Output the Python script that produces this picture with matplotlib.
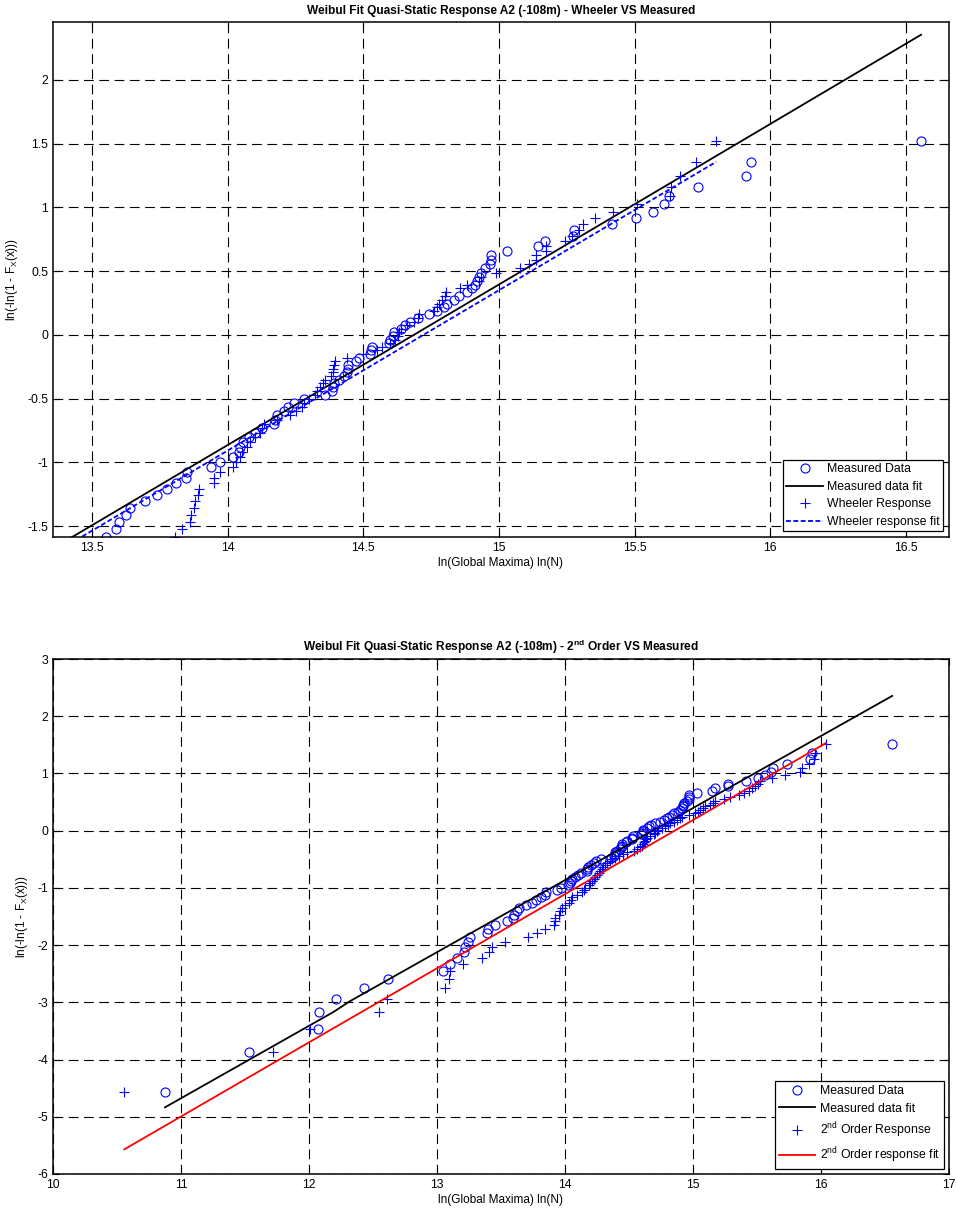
import matplotlib
matplotlib.use('Agg')
import matplotlib.pyplot as plt
from matplotlib.ticker import FuncFormatter

plt.rcParams['font.family'] = ['Liberation Sans', 'DejaVu Sans']
plt.rcParams['axes.unicode_minus'] = False
plt.rcParams['mathtext.fontset'] = 'custom'
plt.rcParams['mathtext.rm'] = 'Liberation Sans'
plt.rcParams['mathtext.it'] = 'Liberation Sans:italic'
plt.rcParams['mathtext.bf'] = 'Liberation Sans:bold'
plt.rcParams['lines.scale_dashes'] = False

# Weibull plotting positions ln(-ln(1 - F)) for the 96 ranked maxima
rank_y = [
    -4.5695, -3.8712, -3.4604, -3.1674, -2.9389, -2.7512, -2.5916, -2.4525,
    -2.3292, -2.2182, -2.1172, -2.0245, -1.9387, -1.8587, -1.7838, -1.7133,
    -1.6467, -1.5835, -1.5233, -1.4657, -1.4107, -1.3578, -1.3069, -1.2579,
    -1.2105, -1.1647, -1.1202, -1.0770, -1.0351, -0.9942, -0.9544, -0.9155,
    -0.8775, -0.8403, -0.8039, -0.7682, -0.7332, -0.6988, -0.6650, -0.6318,
    -0.5990, -0.5667, -0.5349, -0.5035, -0.4725, -0.4418, -0.4114, -0.3814,
    -0.3517, -0.3222, -0.2929, -0.2639, -0.2351, -0.2064, -0.1779, -0.1495,
    -0.1212, -0.0930, -0.0649, -0.0369, -0.0089, 0.0192, 0.0472, 0.0753,
    0.1034, 0.1317, 0.1600, 0.1885, 0.2171, 0.2460, 0.2751, 0.3044,
    0.3341, 0.3641, 0.3945, 0.4254, 0.4568, 0.4888, 0.5214, 0.5548,
    0.5890, 0.6242, 0.6605, 0.6980, 0.7371, 0.7779, 0.8207, 0.8661,
    0.9144, 0.9665, 1.0235, 1.0870, 1.1595, 1.2459, 1.3562, 1.5206,
]

# sorted ln(global maxima) of the measured record
measured_x = [
    10.875, 11.53, 12.07, 12.08, 12.21, 12.43, 12.62, 13.05, 13.10, 13.16,
    13.21, 13.22, 13.24, 13.255, 13.39, 13.40, 13.45, 13.55, 13.59, 13.60,
    13.625, 13.64, 13.696, 13.739, 13.776, 13.81, 13.847, 13.849, 13.939, 13.972,
    14.021, 14.04, 14.046, 14.058, 14.08, 14.10, 14.126, 14.169, 14.175, 14.18,
    14.206, 14.224, 14.246, 14.28, 14.36, 14.384, 14.39, 14.392, 14.41, 14.43,
    14.44, 14.442, 14.445, 14.474, 14.483, 14.523, 14.527, 14.532, 14.593, 14.60,
    14.61, 14.612, 14.64, 14.655, 14.673, 14.70, 14.741, 14.77, 14.796, 14.81,
    14.833, 14.852, 14.883, 14.90, 14.913, 14.92, 14.925, 14.932, 14.95, 14.966,
    14.969, 14.971, 15.028, 15.145, 15.169, 15.273, 15.275, 15.416, 15.506, 15.566,
    15.61, 15.628, 15.735, 15.912, 15.928, 16.555,
]

# Wheeler response, ranks 18..96 (lower ranks fall below the first panel)
wheeler_first_rank = 18
wheeler_x = [
    13.806, 13.83, 13.862, 13.864, 13.874, 13.878, 13.892, 13.896, 13.948, 13.95,
    13.972, 14.019, 14.031, 14.046, 14.052, 14.071, 14.083, 14.101, 14.12, 14.126,
    14.132, 14.18, 14.231, 14.25, 14.274, 14.28, 14.30, 14.32, 14.329, 14.341,
    14.35, 14.36, 14.382, 14.387, 14.388, 14.393, 14.397, 14.44, 14.50, 14.55,
    14.569, 14.60, 14.618, 14.627, 14.633, 14.639, 14.66, 14.686, 14.70, 14.705,
    14.76, 14.772, 14.78, 14.791, 14.80, 14.803, 14.858, 14.883, 14.926, 14.932,
    14.99, 15.077, 15.11, 15.135, 15.138, 15.172, 15.172, 15.245, 15.27, 15.294,
    15.31, 15.353, 15.421, 15.51, 15.63, 15.633, 15.667, 15.725, 15.801,
]

# 2nd order response
second_x = [
    10.557, 11.717, 12.009, 12.543, 12.608, 13.064, 13.09, 13.103, 13.207, 13.351,
    13.41, 13.429, 13.533, 13.71, 13.781, 13.84, 13.911, 13.92, 13.924, 13.95,
    13.96, 13.976, 14.002, 14.028, 14.045, 14.054, 14.093, 14.133, 14.146, 14.159,
    14.184, 14.198, 14.211, 14.225, 14.237, 14.25, 14.262, 14.275, 14.289, 14.30,
    14.315, 14.328, 14.348, 14.367, 14.39, 14.419, 14.45, 14.484, 14.536, 14.56,
    14.588, 14.60, 14.607, 14.614, 14.622, 14.631, 14.64, 14.665, 14.692, 14.705,
    14.715, 14.725, 14.755, 14.784, 14.805, 14.823, 14.85, 14.875, 14.895, 14.914,
    14.97, 15.018, 15.04, 15.057, 15.075, 15.096, 15.13, 15.16, 15.175, 15.24,
    15.292, 15.357, 15.40, 15.44, 15.461, 15.487, 15.51, 15.526, 15.62, 15.722,
    15.839, 15.852, 15.904, 15.943, 15.956, 16.04,
]

# fitted Weibull lines
measured_fit_x = [10.875, 12.19, 12.32, 16.556]
measured_fit_y = [-4.835, -3.17, -2.98, 2.355]
wheeler_fit_x = [13.30, 15.801]
wheeler_fit_y = [-1.788, 1.358]
second_fit_x = [10.557, 16.035]
second_fit_y = [-5.569, 1.527]

top_xticks = [13.5, 14, 14.5, 15, 15.5, 16, 16.5]
top_yticks = [-1.5, -1, -0.5, 0, 0.5, 1, 1.5, 2]
bot_xticks = [10, 11, 12, 13, 14, 15, 16, 17]
bot_yticks = [-6, -5, -4, -3, -2, -1, 0, 1, 2, 3]

xlabel = 'ln(Global Maxima) ln(N)'
ylabel = r'ln(-ln(1 - F$_{\mathrm{X}}$(x)))'

grid_dash = (0, (7, 4))


def style_axes(ax, xticks, yticks, xlim, ylim):
    ax.set_xlim(xlim)
    ax.set_ylim(ylim)
    ax.set_xticks(xticks)
    ax.set_yticks(yticks)
    fmt = FuncFormatter(lambda v, p: '%g' % v)
    ax.xaxis.set_major_formatter(fmt)
    ax.yaxis.set_major_formatter(fmt)
    ax.tick_params(direction='in', length=4, width=0.8, labelsize=8.8,
                   top=True, right=True, pad=3.5)
    ax.grid(True, color='k', linestyle=grid_dash, linewidth=0.8)
    for sp in ax.spines.values():
        sp.set_linewidth(1.1)
    ax.set_xlabel(xlabel, fontsize=8.5, labelpad=2)
    ax.set_ylabel(ylabel, fontsize=8.5, labelpad=5)


def add_legend(ax):
    leg = ax.legend(loc='lower right', fontsize=8.8, fancybox=False,
                    edgecolor='k', framealpha=1, borderaxespad=0.45,
                    handlelength=3.0, handletextpad=0.35, labelspacing=0.45,
                    borderpad=0.3)
    leg.get_frame().set_linewidth(0.9)


fig = plt.figure(figsize=(9.56, 12.10), dpi=100)
ax1 = fig.add_axes([53 / 956, 1 - 537 / 1210, 896 / 956, 515 / 1210])
ax2 = fig.add_axes([53 / 956, 1 - 1174 / 1210, 896 / 956, 515 / 1210])

marker_kw = dict(linestyle='none', color='b', markersize=6.5,
                 markeredgewidth=0.8)

# upper panel: Wheeler vs measured
ax1.plot(measured_x, rank_y, marker='o', markerfacecolor='none',
         label='Measured Data', **marker_kw)
ax1.plot(measured_fit_x, measured_fit_y, color='k', linewidth=1.3,
         label='Measured data fit')
ax1.plot(wheeler_x, rank_y[wheeler_first_rank - 1:], marker='+',
         label='Wheeler Response', **marker_kw)
ax1.plot(wheeler_fit_x, wheeler_fit_y, color='b', linewidth=1.3,
         linestyle=(0, (3.5, 1.8)), label='Wheeler response fit')
style_axes(ax1, top_xticks, top_yticks, (13.356, 16.659), (-1.586, 2.455))
ax1.set_title('Weibul Fit Quasi-Static Response A2 (-108m) - Wheeler VS Measured',
              fontsize=8.6, fontweight='bold', pad=6)
add_legend(ax1)

# lower panel: 2nd order vs measured
ax2.plot(measured_x, rank_y, marker='o', markerfacecolor='none',
         label='Measured Data', **marker_kw)
ax2.plot(measured_fit_x, measured_fit_y, color='k', linewidth=1.3,
         label='Measured data fit')
ax2.plot(second_x, rank_y, marker='+',
         label=r'2$^{\mathrm{nd}}$ Order Response', **marker_kw)
ax2.plot(second_fit_x, second_fit_y, color='r', linewidth=1.3,
         label=r'2$^{\mathrm{nd}}$ Order response fit')
style_axes(ax2, bot_xticks, bot_yticks, (10, 17), (-6, 3))
ax2.set_title(r'Weibul Fit Quasi-Static Response A2 (-108m) - 2$^{\mathbf{nd}}$ Order VS Measured',
              fontsize=8.6, fontweight='bold', pad=6)
add_legend(ax2)

fig.savefig('out.png', dpi=100)
